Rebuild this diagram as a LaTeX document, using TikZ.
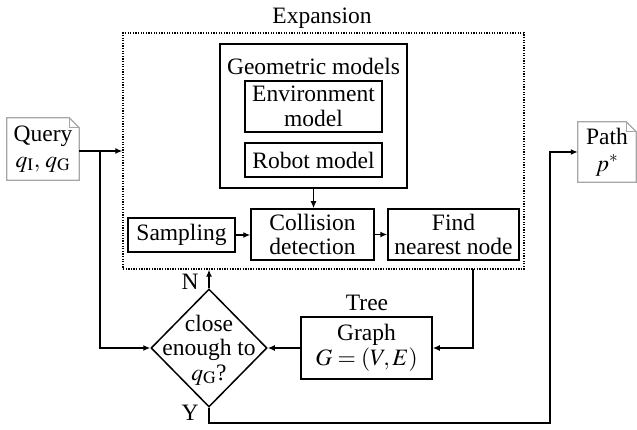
\documentclass[tikz,border=0pt]{standalone}
\usepackage{mathptmx}
\usepackage[no-math]{fontspec}
\setmainfont{Liberation Serif}
\usetikzlibrary{shapes.geometric,arrows.meta}
\begin{document}
\begin{tikzpicture}[x=1pt,y=-1pt,
  font=\fontsize{23.5}{24.5}\selectfont,
  box/.style={draw,line width=1.5pt,align=center,inner sep=0pt},
  arr/.style={line width=1.5pt,-{Latex[length=7pt,width=6pt]}},
  notebox/.style={align=center,inner sep=0pt},
  notecol/.style={draw=gray!70,line width=1.2pt},
]
\useasboundingbox (0,0) rectangle (637,430);

% expansion frame
\node[draw,line width=1.3pt,dash pattern=on 1.3pt off 1.3pt,minimum width=401pt,minimum height=236pt,inner sep=0pt] (exp) at (323.5,151) {};
\node (explab) at (322,18) {Expansion};

% geometric models
\node[box,minimum width=187pt,minimum height=144pt] (geo) at (313.5,116) {};
\node (geolab) at (313.5,66) {Geometric models};
\node[box,minimum width=137pt,minimum height=51pt] (env) at (313.5,106.5) {Environment\\model};
\node[box,minimum width=137pt,minimum height=34pt] (rob) at (313.5,160) {Robot model};

% row
\node[box,minimum width=107pt,minimum height=34pt] (samp) at (181.5,235) {Sampling};
\node[box,minimum width=123pt,minimum height=51pt] (col) at (312.5,234.5) {Collision\\detection};
\node[box,minimum width=131pt,minimum height=51pt] (find) at (453.5,234.5) {Find\\nearest node};

% decision
\node[draw,diamond,line width=1.5pt,minimum width=116pt,minimum height=118pt,inner sep=0pt] (dec) at (209,348) {};
\node[align=center] (dect) at (209,350) {close\\enough to\\$q_{\mathrm{G}}$?};
\node (nl) at (190,282) {N};
\node (yl) at (190,413) {Y};

% graph
\node[box,minimum width=131pt,minimum height=62pt] (graph) at (366.5,348) {Graph\\$G=(V,E)$};
\node (tl) at (367,303) {Tree};

% notes
\node[notebox,minimum width=72pt,minimum height=62pt] (q) at (43,149) {Query\\[1pt]$q_{\mathrm{I}},\, q_{\mathrm{G}}$};
\draw[notecol] (q.south west) -- (q.north west) -- ([xshift=-10pt]q.north east) -- ([yshift=-10pt]q.north east) -- (q.south east) -- cycle;
\draw[notecol] ([xshift=-10pt]q.north east) -- ([xshift=-10pt,yshift=-10pt]q.north east) -- ([yshift=-10pt]q.north east);

\node[notebox,minimum width=58pt,minimum height=60pt] (path) at (607,152) {Path\\[3pt]$p^{*}$};
\draw[notecol] (path.south west) -- (path.north west) -- ([xshift=-10pt]path.north east) -- ([yshift=-10pt]path.north east) -- (path.south east) -- cycle;
\draw[notecol] ([xshift=-10pt]path.north east) -- ([xshift=-10pt,yshift=-10pt]path.north east) -- ([yshift=-10pt]path.north east);

% connectors
\coordinate (br) at (100,151);
\coordinate (yc) at (550,423);
\coordinate (fb) at (473,269);
\draw[arr] (q.east |- exp.west) -- (exp.west);
\draw[arr] (br) |- (dec.west);
\draw[arr] (dec.north) -- (dec.north |- exp.south);
\draw[arr] (dec.south) |- (yc) |- (path.west);
\draw[arr] (fb) |- (graph.east);
\draw[arr] (graph.west) -- (dec.east);
\draw[arr] (samp.east) -- (samp.east -| col.west);
\draw[arr] (col.east) -- (find.west);
\draw[arr] (geo.south) -- (geo.south |- col.north);
\end{tikzpicture}
\end{document}
